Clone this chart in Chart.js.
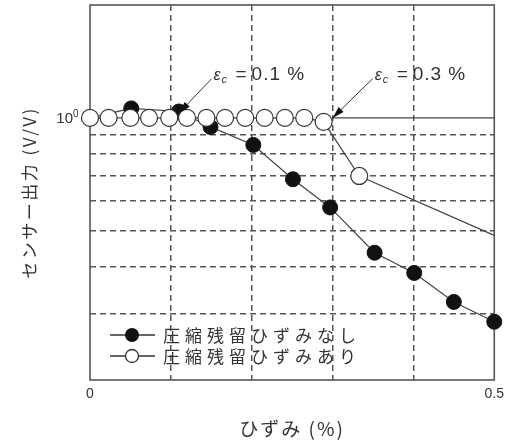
<!DOCTYPE html>
<html>
<head>
<meta charset="utf-8">
<script src="https://cdn.jsdelivr.net/npm/chart.js@4/dist/chart.umd.min.js"></script>
<style>
  html, body { margin: 0; padding: 0; background: #fff; }
  #wrap { width: 510px; height: 441px; }
</style>
</head>
<body>
<div id="wrap"><canvas id="c" width="510" height="441"></canvas></div>
<script>
// ---- data ----
const strainFilled = [0, 0.051, 0.11, 0.149, 0.202, 0.251, 0.297, 0.352, 0.401, 0.45, 0.5];
const outputFilled = [1.0, 1.06, 1.04, 0.946, 0.847, 0.686, 0.577, 0.437, 0.386, 0.323, 0.286];
const strainOpen = [0, 0.023, 0.05, 0.073, 0.098, 0.12, 0.144, 0.167, 0.192, 0.216, 0.241, 0.265, 0.289, 0.333, 0.5];
const outputOpen = [1, 1, 1, 1, 1, 1, 1, 1, 1, 1, 1, 1, 0.976, 0.70, 0.486];
const refStrain = [0.3, 0.5];
const refOutput = [1, 1];
const xGrid = [0, 0.1, 0.2, 0.3, 0.4, 0.5];
const xTickText = ['0', '', '', '', '', '0.5'];
const yGrid = [0.2, 0.3, 0.4, 0.5, 0.6, 0.7, 0.8, 0.9, 1, 2];
const legendNames = ['圧縮残留ひずみなし', '圧縮残留ひずみあり'];
const xTitle = 'ひずみ (%)';
const yTitle = 'センサー出力 (V/V)';
const annotValues = ['0.1 %', '0.3 %'];
const annotTips = [[0.11, 1.03], [0.3, 1.0]];
const annotTails = [[0.1504, 1.272], [0.3496, 1.272]];

const toPts = (xs, ys) => xs.map((x, i) => ({x: x, y: ys[i]}));
const LATIN = '"Liberation Sans", Arial, sans-serif';
const JP = '"Noto Sans CJK JP", sans-serif';

const decor = {
  id: 'decor',
  beforeDatasetsDraw(chart) {
    const {ctx, chartArea: a} = chart;
    ctx.save();
    ctx.strokeStyle = '#555';
    ctx.lineWidth = 1.6;
    ctx.strokeRect(a.left, a.top, a.right - a.left, a.bottom - a.top);
    ctx.restore();
  },
  afterDatasetsDraw(chart) {
    const {ctx} = chart;
    const xs = chart.scales.x, ys = chart.scales.y;
    ctx.save();
    for (let i = 0; i < annotValues.length; i++) {
      const tx = xs.getPixelForValue(annotTips[i][0]), ty = ys.getPixelForValue(annotTips[i][1]);
      const sx = xs.getPixelForValue(annotTails[i][0]), sy = ys.getPixelForValue(annotTails[i][1]);
      ctx.strokeStyle = '#333'; ctx.fillStyle = '#111'; ctx.lineWidth = 1;
      ctx.beginPath(); ctx.moveTo(sx, sy); ctx.lineTo(tx, ty); ctx.stroke();
      const ang = Math.atan2(ty - sy, tx - sx), L = 12, W = 3.5;
      const bx = tx - L * Math.cos(ang), by = ty - L * Math.sin(ang);
      ctx.beginPath();
      ctx.moveTo(tx, ty);
      ctx.lineTo(bx + W * Math.sin(ang), by - W * Math.cos(ang));
      ctx.lineTo(bx - W * Math.sin(ang), by + W * Math.cos(ang));
      ctx.closePath(); ctx.fill();
      const x0 = sx + 2, base = sy + 1;
      ctx.fillStyle = '#333';
      ctx.textBaseline = 'alphabetic'; ctx.textAlign = 'left';
      ctx.font = 'italic 16px ' + LATIN;
      ctx.fillText('ε', x0, base);
      ctx.font = 'italic 11px ' + LATIN;
      ctx.fillText('c', x0 + 8, base + 3);
      ctx.font = '19px ' + LATIN;
      ctx.fillText('=', x0 + 22, base);
      ctx.letterSpacing = '1px';
      ctx.fillText(annotValues[i], x0 + 38, base);
      ctx.letterSpacing = '0px';
    }
    ctx.restore();
  },
  afterDraw(chart) {
    const {ctx, chartArea: a} = chart;
    const ys = chart.scales.y;
    ctx.save();
    const y1 = ys.getPixelForValue(1);
    ctx.fillStyle = '#333';
    ctx.font = '15px ' + LATIN;
    ctx.textAlign = 'right'; ctx.textBaseline = 'middle';
    ctx.fillText('10', a.left - 17, y1 + 1);
    ctx.font = '10px ' + LATIN;
    ctx.textAlign = 'left';
    ctx.fillText('0', a.left - 17, y1 - 4);
    const rows = [a.bottom - 45, a.bottom - 24];
    for (let i = 0; i < 2; i++) {
      const ly = rows[i];
      ctx.strokeStyle = '#333'; ctx.lineWidth = 1.3;
      ctx.beginPath(); ctx.moveTo(a.left + 20, ly); ctx.lineTo(a.left + 65, ly); ctx.stroke();
      ctx.beginPath(); ctx.arc(a.left + 42, ly, i === 0 ? 7 : 6.5, 0, Math.PI * 2);
      if (i === 0) { ctx.fillStyle = '#111'; ctx.fill(); }
      else { ctx.fillStyle = '#fff'; ctx.fill(); ctx.stroke(); }
      ctx.fillStyle = '#333';
      ctx.font = '17px ' + JP;
      ctx.textAlign = 'left'; ctx.textBaseline = 'middle';
      ctx.letterSpacing = '5px';
      ctx.fillText(legendNames[i], a.left + 73, ly + 1);
      ctx.letterSpacing = '0px';
    }
    ctx.fillStyle = '#333';
    ctx.font = '19px ' + JP;
    ctx.textAlign = 'center'; ctx.textBaseline = 'middle';
    ctx.letterSpacing = '2px';
    ctx.fillText(xTitle, (a.left + a.right) / 2, 429);
    ctx.translate(30, (a.top + a.bottom) / 2);
    ctx.rotate(-Math.PI / 2);
    ctx.font = '17px ' + JP;
    ctx.letterSpacing = '2.5px';
    ctx.fillText(yTitle, 0, 0);
    ctx.restore();
  }
};

new Chart(document.getElementById('c'), {
  type: 'line',
  data: {
    datasets: [
      {
        label: legendNames[1],
        data: toPts(strainOpen, outputOpen),
        order: 0,
        borderColor: '#444', borderWidth: 1.2,
        pointBackgroundColor: '#fff', pointBorderColor: '#333', pointBorderWidth: 1.2,
        pointRadius: ctx => ctx.dataIndex === strainOpen.length - 1 ? 0 : 8.5,
        clip: false, tension: 0
      },
      {
        label: legendNames[0],
        data: toPts(strainFilled, outputFilled),
        order: 1,
        borderColor: '#444', borderWidth: 1.2,
        pointBackgroundColor: '#111', pointBorderColor: '#111', pointBorderWidth: 1,
        pointRadius: 7.5,
        clip: false, tension: 0
      },
      {
        label: 'ref',
        data: toPts(refStrain, refOutput),
        order: 2,
        borderColor: '#444', borderWidth: 1.4,
        pointRadius: 0, clip: false
      }
    ]
  },
  options: {
    responsive: false,
    animation: false,
    events: [],
    layout: { autoPadding: false, padding: { top: 5, right: 11, bottom: 0, left: 0 } },
    plugins: { legend: { display: false }, tooltip: { enabled: false }, title: { display: false } },
    scales: {
      x: {
        type: 'linear', min: 0, max: 0.5,
        afterBuildTicks: s => { s.ticks = xGrid.map(v => ({value: v})); },
        afterFit: s => { s.height = 61; },
        grid: {
          color: c => (c.tick && c.tick.value > 0 && c.tick.value < 0.5) ? '#555' : 'rgba(0,0,0,0)',
          lineWidth: 1.5, drawTicks: false
        },
        border: { display: false, dash: [6, 4] },
        ticks: {
          autoSkip: false, maxRotation: 0, padding: 6,
          color: '#333', font: { family: LATIN, size: 14 },
          callback: (v, i) => xTickText[i]
        }
      },
      y: {
        type: 'logarithmic', min: 0.2, max: 2,
        afterBuildTicks: s => { s.ticks = yGrid.map(v => ({value: v})); },
        afterFit: s => { s.width = 90; },
        grid: {
          color: c => (c.tick && c.tick.value > 0.25 && c.tick.value < 0.95) ? '#555' : 'rgba(0,0,0,0)',
          lineWidth: 1.5, drawTicks: false
        },
        border: { display: false, dash: [6, 4] },
        ticks: { display: false }
      }
    }
  },
  plugins: [decor]
});
</script>
</body>
</html>
